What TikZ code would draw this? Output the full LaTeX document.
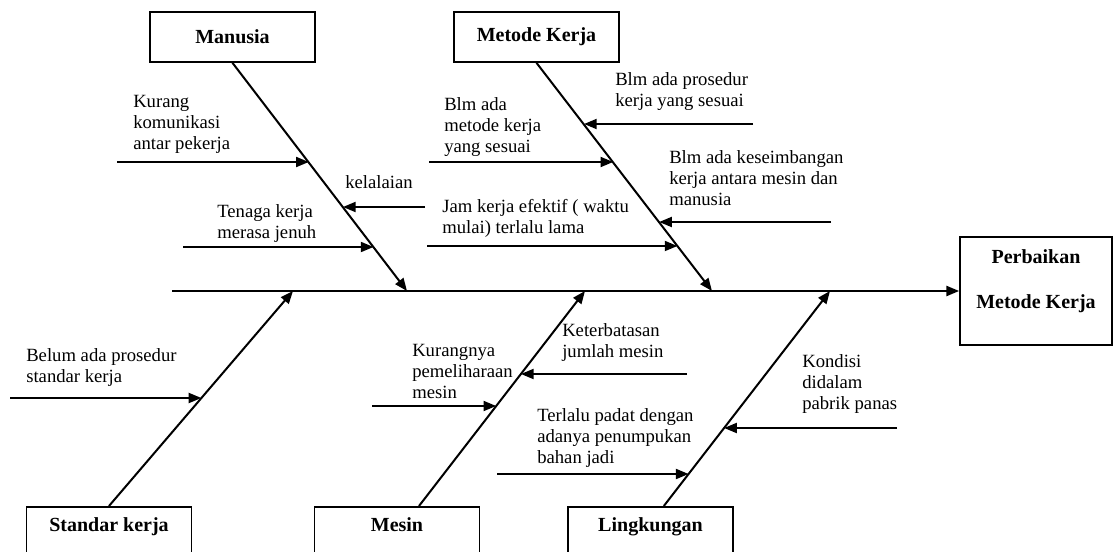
\documentclass[tikz,border=0pt]{standalone}
\usepackage{fontspec}
\setmainfont{Liberation Serif}
\usetikzlibrary{arrows.meta}
\begin{document}
\begin{tikzpicture}[x=0.75pt,y=-0.75pt,
    kotak/.style={draw, line width=1.3pt, minimum width=123.75pt, minimum height=37.5pt, inner sep=0pt, font=\fontsize{15}{17}\selectfont\bfseries},
    kotakbawah/.style={draw, line width=1.3pt, minimum width=123.75pt, inner sep=0pt, anchor=north, text height=18.75pt, text depth=22.5pt, font=\fontsize{15}{17}\selectfont\bfseries},
    tulang/.style={line width=1.5pt, -{Triangle[length=9.5pt,width=7.5pt]}},
    sebab/.style={line width=1.4pt, -{Triangle[length=9.5pt,width=7.5pt]}},
    ket/.style={anchor=north west, inner sep=0pt, align=left, font=\fontsize{14}{15.75}\selectfont}]

  \useasboundingbox (0,0) rectangle (1115,552);
  \clip (0,0) rectangle (1115,552);

  % Kotak kategori
  \node[kotak] (manusia) at (232.5,37) {Manusia};
  \node[kotak] (metode) at (536.5,37) {Metode Kerja};
  \node[kotak, minimum width=114pt, minimum height=81pt, align=center, text depth=18pt] (hasil) at (1036,291) {Perbaikan\\[17pt]Metode Kerja};
  \node[kotakbawah] (standar) at (109,506) {Standar kerja};
  \node[kotakbawah] (mesin) at (397,506) {Mesin};
  \node[kotakbawah] (lingkungan) at (650.5,506) {Lingkungan};

  % Tulang utama
  \coordinate (ekor) at (172,291);
  \draw[tulang] (ekor) -- (hasil.west);

  % Titik pada tulang utama
  \coordinate (tS) at (293,291);
  \coordinate (tM) at (407,291);
  \coordinate (tMs) at (585,291);
  \coordinate (tK) at (712,291);
  \coordinate (tL) at (830,291);

  % Tulang kategori
  \draw[tulang] (manusia.south) -- (tM) coordinate[pos=0.437] (m1) coordinate[pos=0.633] (m2) coordinate[pos=0.808] (m3);
  \draw[tulang] (metode.south) -- (tK) coordinate[pos=0.271] (k1) coordinate[pos=0.437] (k2) coordinate[pos=0.699] (k3) coordinate[pos=0.803] (k4);
  \draw[tulang] (standar.north) -- (tS) coordinate[pos=0.502] (s1);
  \draw[tulang] ([xshift=16.5pt]mesin.north) -- (tMs) coordinate[pos=0.614] (ms1) coordinate[pos=0.465] (ms2);
  \draw[tulang] ([xshift=10pt]lingkungan.north) -- (tL) coordinate[pos=0.149] (l1) coordinate[pos=0.363] (l2);

  % Ujung panah sebab
  \coordinate (a1) at (117,162);
  \coordinate (a2) at (425,207);
  \coordinate (a3) at (183,247);
  \coordinate (b1) at (753,124);
  \coordinate (b2) at (429,162);
  \coordinate (b3) at (831,222);
  \coordinate (b4) at (427,246);
  \coordinate (c1) at (10,398);
  \coordinate (d1) at (687,374);
  \coordinate (d2) at (372,406);
  \coordinate (e1) at (497,474);
  \coordinate (e2) at (897,428);

  % Panah sebab
  \draw[sebab] (a1) -- (a1 -| m1);
  \draw[sebab] (a2) -- (a2 -| m2);
  \draw[sebab] (a3) -- (a3 -| m3);
  \draw[sebab] (b1) -- (b1 -| k1);
  \draw[sebab] (b2) -- (b2 -| k2);
  \draw[sebab] (b3) -- (b3 -| k3);
  \draw[sebab] (b4) -- (b4 -| k4);
  \draw[sebab] (c1) -- (c1 -| s1);
  \draw[sebab] (d1) -- (d1 -| ms1);
  \draw[sebab] (d2) -- (d2 -| ms2);
  \draw[sebab] (e1) -- (e1 -| l1);
  \draw[sebab] (e2) -- (e2 -| l2);

  % Keterangan
  \node[ket] (tk1) at (133,95) {Kurang\\komunikasi\\antar pekerja};
  \node[ket] (tk2) at (345,175) {kelalaian};
  \node[ket] (tk3) at (217,204) {Tenaga kerja\\merasa jenuh};
  \node[ket] (tb1) at (615,72) {Blm ada prosedur\\kerja yang sesuai};
  \node[ket] (tb2) at (444,97) {Blm ada\\metode kerja\\yang sesuai};
  \node[ket] (tb3) at (669,150) {Blm ada keseimbangan\\kerja antara mesin dan\\manusia};
  \node[ket] (tb4) at (442,199) {Jam kerja efektif ( waktu\\mulai) terlalu lama};
  \node[ket] (tc1) at (26,348) {Belum ada prosedur\\standar kerja};
  \node[ket] (td1) at (562,323) {Keterbatasan\\jumlah mesin};
  \node[ket] (td2) at (412,344) {Kurangnya\\pemeliharaan\\mesin};
  \node[ket] (te1) at (537,408) {Terlalu padat dengan\\adanya penumpukan\\bahan jadi};
  \node[ket] (te2) at (802,354) {Kondisi\\didalam\\pabrik panas};
\end{tikzpicture}
\end{document}
